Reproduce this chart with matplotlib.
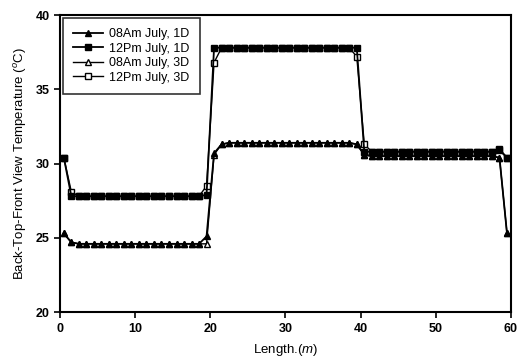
import matplotlib
matplotlib.use("Agg")
import matplotlib.pyplot as plt

plt.rcParams["font.family"] = ["Liberation Sans", "DejaVu Sans"]
plt.rcParams["mathtext.fontset"] = "custom"
plt.rcParams["mathtext.rm"] = "Liberation Sans"
plt.rcParams["mathtext.it"] = "Liberation Sans:italic"

# position along the building (m)
length = [0.5, 1.5, 2.5, 3.5, 4.5, 5.5, 6.5, 7.5, 8.5, 9.5,
          10.5, 11.5, 12.5, 13.5, 14.5, 15.5, 16.5, 17.5, 18.5, 19.5,
          20.5, 21.5, 22.5, 23.5, 24.5, 25.5, 26.5, 27.5, 28.5, 29.5,
          30.5, 31.5, 32.5, 33.5, 34.5, 35.5, 36.5, 37.5, 38.5, 39.5,
          40.5, 41.5, 42.5, 43.5, 44.5, 45.5, 46.5, 47.5, 48.5, 49.5,
          50.5, 51.5, 52.5, 53.5, 54.5, 55.5, 56.5, 57.5, 58.5, 59.5]

am_1d = [25.3, 24.7, 24.6, 24.6, 24.6, 24.6, 24.6, 24.6, 24.6, 24.6,
         24.6, 24.6, 24.6, 24.6, 24.6, 24.6, 24.6, 24.6, 24.6, 25.1,
         30.7, 31.3, 31.4, 31.4, 31.4, 31.4, 31.4, 31.4, 31.4, 31.4,
         31.4, 31.4, 31.4, 31.4, 31.4, 31.4, 31.4, 31.4, 31.4, 31.3,
         30.6, 30.5, 30.5, 30.5, 30.5, 30.5, 30.5, 30.5, 30.5, 30.5,
         30.5, 30.5, 30.5, 30.5, 30.5, 30.5, 30.5, 30.5, 30.4, 25.3]

pm_1d = [30.4, 27.8, 27.8, 27.8, 27.8, 27.8, 27.8, 27.8, 27.8, 27.8,
         27.8, 27.8, 27.8, 27.8, 27.8, 27.8, 27.8, 27.8, 27.8, 27.9,
         37.8, 37.8, 37.8, 37.8, 37.8, 37.8, 37.8, 37.8, 37.8, 37.8,
         37.8, 37.8, 37.8, 37.8, 37.8, 37.8, 37.8, 37.8, 37.8, 37.8,
         30.8, 30.8, 30.8, 30.8, 30.8, 30.8, 30.8, 30.8, 30.8, 30.8,
         30.8, 30.8, 30.8, 30.8, 30.8, 30.8, 30.8, 30.8, 30.9, 30.4]

am_3d = [25.3, 24.7, 24.6, 24.6, 24.6, 24.6, 24.6, 24.6, 24.6, 24.6,
         24.6, 24.6, 24.6, 24.6, 24.6, 24.6, 24.6, 24.6, 24.6, 24.6,
         30.6, 31.3, 31.4, 31.4, 31.4, 31.4, 31.4, 31.4, 31.4, 31.4,
         31.4, 31.4, 31.4, 31.4, 31.4, 31.4, 31.4, 31.4, 31.4, 31.3,
         30.6, 30.5, 30.5, 30.5, 30.5, 30.5, 30.5, 30.5, 30.5, 30.5,
         30.5, 30.5, 30.5, 30.5, 30.5, 30.5, 30.5, 30.5, 30.4, 25.3]

pm_3d = [30.4, 28.1, 27.8, 27.8, 27.8, 27.8, 27.8, 27.8, 27.8, 27.8,
         27.8, 27.8, 27.8, 27.8, 27.8, 27.8, 27.8, 27.8, 27.8, 28.5,
         36.8, 37.8, 37.8, 37.8, 37.8, 37.8, 37.8, 37.8, 37.8, 37.8,
         37.8, 37.8, 37.8, 37.8, 37.8, 37.8, 37.8, 37.8, 37.8, 37.2,
         31.3, 30.8, 30.8, 30.8, 30.8, 30.8, 30.8, 30.8, 30.8, 30.8,
         30.8, 30.8, 30.8, 30.8, 30.8, 30.8, 30.8, 30.8, 31.0, 30.4]

labels = ["08Am July, 1D", "12Pm July, 1D", "08Am July, 3D", "12Pm July, 3D"]

fig = plt.figure(figsize=(5.18, 3.58), dpi=100)
ax = fig.add_axes([0.116, 0.128, 0.870, 0.830])

# 3D curves drawn underneath, so the filled 1D markers hide them where equal
l1, = ax.plot(length, am_1d, "k-^", lw=1.3, ms=4, zorder=4, label=labels[0])
l2, = ax.plot(length, pm_1d, "k-s", lw=1.3, ms=4, zorder=4, label=labels[1])
l3, = ax.plot(length, am_3d, "k-^", lw=1.0, ms=4, mfc="white", zorder=3, label=labels[2])
l4, = ax.plot(length, pm_3d, "k-s", lw=1.0, ms=4, mfc="white", zorder=3, label=labels[3])

ax.set_xlim(0, 60)
ax.set_ylim(20, 40)
ax.set_xticks([0, 10, 20, 30, 40, 50, 60])
ax.set_yticks([20, 25, 30, 35, 40])
ax.tick_params(direction="out", length=4, width=1.2, labelsize=9)
for lab in ax.get_xticklabels() + ax.get_yticklabels():
    lab.set_fontweight("bold")
for sp in ax.spines.values():
    sp.set_linewidth(1.5)

ax.set_xlabel("Length.($m$)", fontsize=9.5, labelpad=5)
ax.set_ylabel("Back-Top-Front View Temperature ($^{o}$C)", fontsize=9.5, labelpad=5)

leg = ax.legend(handles=[l1, l2, l3, l4], loc="upper left", fontsize=9,
                frameon=True, fancybox=False, edgecolor="black",
                borderaxespad=0.25, handlelength=2.4, handletextpad=0.5,
                labelspacing=0.2, borderpad=0.8)
leg.get_frame().set_linewidth(1.2)
leg.set_zorder(10)

fig.savefig("out.png", dpi=100)
